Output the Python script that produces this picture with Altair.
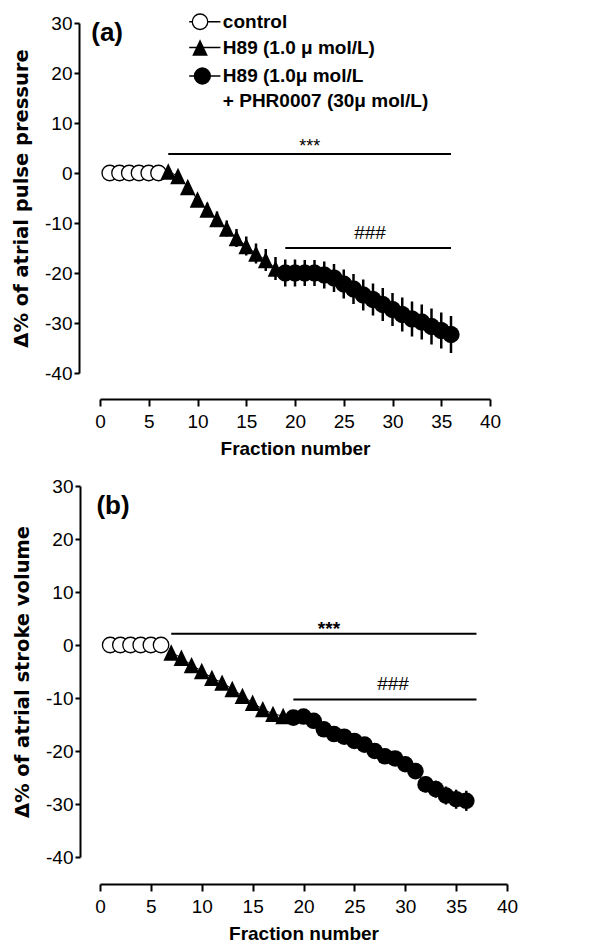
import altair as alt
import pandas as pd

# ---------------- data ----------------
X_TICKS = [0, 5, 10, 15, 20, 25, 30, 35, 40]
Y_TICKS = [-40, -30, -20, -10, 0, 10, 20, 30]

ctrl_x = [1, 2, 3, 4, 5, 6]
ctrl_y = [0, 0, 0, 0, 0, 0]
h89_x = [7, 8, 9, 10, 11, 12, 13, 14, 15, 16, 17, 18]
phr_x = [19, 20, 21, 22, 23, 24, 25, 26, 27, 28, 29, 30, 31, 32, 33, 34, 35, 36]

# panel (a): atrial pulse pressure
a_h89_y = [0.3, -0.6, -2.8, -5.3, -7.3, -9.2, -11.1, -13.0, -14.6, -16.1, -17.4, -19.1]
a_h89_err = [0.5, 0.7, 0.9, 1.1, 1.3, 1.5, 1.6, 1.8, 1.9, 2.0, 2.2, 2.3]
a_phr_y = [-20.0, -20.0, -20.0, -20.0, -20.4, -21.0, -22.2, -23.2, -24.4, -25.3,
           -26.3, -27.3, -28.3, -29.2, -29.8, -30.7, -31.5, -32.3]
a_phr_err = [2.7, 2.7, 2.6, 2.6, 2.7, 2.8, 2.9, 3.0, 3.1, 3.2, 3.3, 3.3, 3.4, 3.5,
             3.5, 3.6, 3.6, 3.7]

# panel (b): atrial stroke volume
b_h89_y = [-1.4, -2.4, -3.8, -4.9, -6.2, -7.1, -8.3, -9.6, -10.9, -12.1, -13.0, -13.4]
b_h89_err = [0.3, 0.4, 0.4, 0.5, 0.5, 0.6, 0.6, 0.7, 0.7, 0.8, 0.8, 0.9]
b_phr_y = [-13.7, -13.5, -14.3, -15.9, -16.8, -17.3, -18.1, -18.8, -20.0, -21.0,
           -21.4, -22.5, -23.8, -26.3, -27.2, -28.4, -29.1, -29.4]
b_phr_err = [0.9, 0.9, 1.0, 1.0, 1.1, 1.1, 1.2, 1.2, 1.3, 1.3, 1.4, 1.4, 1.5, 1.5,
             1.6, 1.7, 1.8, 1.9]

# significance bars: [x_start, x_end, y_line, text_x, text_y, text]
a_sig = [[7, 36, 3.8, 21.5, 4.2, "***"], [19, 36, -15.0, 27.7, -13.2, "###"]]
b_sig = [[7, 37, 2.1, 22.5, 1.8, "***"], [19, 37, -10.3, 28.8, -8.5, "###"]]

panel_labels = {"a": [-0.9, 28.0, "(a)"], "b": [-0.35, 26.2, "(b)"]}

leg_text = ["control", "H89 (1.0 \u03bc mol/L)", "H89 (1.0\u03bc mol/L",
            "+ PHR0007 (30\u03bc mol/L)"]
leg_text_y = [30.2, 25.0, 19.4, 14.4]
leg_sym_y = [30.25, 25.1, 19.4]
leg_sym_x = [10.26, 10.26, 10.5]
leg_line_x = [9.15, 12.35]
leg_text_x = 12.6

LABEL_FONT = "Liberation Sans, Arial, Helvetica, sans-serif"
BOLD_FONT = "Liberation Sans, Arial, Helvetica, sans-serif"
YTITLE_FONT = "DejaVu Sans, Verdana, sans-serif"
TRI = "M0,-1L0.95,1L-0.95,1Z"


def encs(xoff, yoff, ytitle):
    xs = alt.Scale(domain=[0, 40], nice=False, zero=False)
    ys = alt.Scale(domain=[-40, 30], nice=False, zero=False)
    xa = alt.Axis(values=X_TICKS, title="Fraction number", offset=xoff,
                  grid=False, domainColor="black", domainWidth=2,
                  tickColor="black", tickWidth=2, tickSize=7,
                  labelFont=LABEL_FONT, labelFontSize=19, labelColor="black",
                  labelPadding=6, labelFlush=False, labelOverlap=False,
                  labelExpr="'' + datum.value",
                  titleFont=BOLD_FONT, titleFontSize=19, titleFontWeight="bold",
                  titleColor="black", titlePadding=8)
    ya = alt.Axis(values=Y_TICKS, title=ytitle, offset=yoff,
                  grid=False, domainColor="black", domainWidth=2,
                  tickColor="black", tickWidth=2, tickSize=5,
                  labelFont=LABEL_FONT, labelFontSize=19, labelColor="black",
                  labelPadding=2, labelFlush=False, labelOverlap=False,
                  labelExpr="'' + datum.value",
                  titleFont=YTITLE_FONT, titleFontSize=19.5, titleFontWeight="bold",
                  titleColor="black", titlePadding=13)
    return xs, ys, xa, ya


def panel(key, h89_y, h89_err, phr_y, phr_err, sig, xoff, yoff, ytitle, w, h,
          circ_size, legend=False):
    xs, ys, xa, ya = encs(xoff, yoff, ytitle)
    X = alt.X("x:Q", scale=xs, axis=xa)
    Y = alt.Y("y:Q", scale=ys, axis=ya)
    Ylo = alt.Y("lo:Q", scale=ys, axis=ya)

    ctrl = pd.DataFrame({"x": ctrl_x, "y": ctrl_y})
    h89 = pd.DataFrame({"x": h89_x, "y": h89_y, "e": h89_err})
    phr = pd.DataFrame({"x": phr_x, "y": phr_y, "e": phr_err})
    for d in (h89, phr):
        d["lo"] = d["y"] - d["e"]
        d["hi"] = d["y"] + d["e"]
    err = pd.concat([h89, phr])

    layers = []
    layers.append(alt.Chart(err).mark_rule(color="black", strokeWidth=2.5).encode(
        x=X, y=Ylo, y2="hi:Q"))
    for d in (ctrl, h89, phr):
        layers.append(alt.Chart(d).mark_line(color="black", strokeWidth=1).encode(x=X, y=Y))
    layers.append(alt.Chart(ctrl).mark_point(shape="circle", filled=True, fill="white",
                                             stroke="black", strokeWidth=1.3, opacity=1,
                                             size=240).encode(x=X, y=Y))
    layers.append(alt.Chart(h89).mark_point(shape=TRI, filled=True, color="black",
                                            opacity=1, size=270).encode(x=X, y=Y))
    layers.append(alt.Chart(phr).mark_point(shape="circle", filled=True, color="black",
                                            opacity=1, size=circ_size).encode(x=X, y=Y))

    sig_lines = pd.DataFrame({"x": [s[0] for s in sig], "x2": [s[1] for s in sig],
                              "y": [s[2] for s in sig]})
    layers.append(alt.Chart(sig_lines).mark_rule(color="black", strokeWidth=2).encode(
        x=X, x2="x2:Q", y=Y))
    star = pd.DataFrame({"x": [sig[0][3]], "y": [sig[0][4]], "t": [sig[0][5]]})
    hashes = pd.DataFrame({"x": [sig[1][3]], "y": [sig[1][4]], "t": [sig[1][5]]})
    if key == "a":
        layers.append(alt.Chart(star).mark_text(font=BOLD_FONT, fontSize=18, color="black",
                                                align="center", baseline="alphabetic").encode(
            x=X, y=Y, text="t:N"))
    else:
        layers.append(alt.Chart(star).mark_text(font=BOLD_FONT, fontSize=19, fontWeight="bold",
                                                color="black", align="center",
                                                baseline="alphabetic").encode(
            x=X, y=Y, text="t:N"))
    layers.append(alt.Chart(hashes).mark_text(font=LABEL_FONT, fontSize=19, color="black",
                                              align="center", baseline="alphabetic").encode(
        x=X, y=Y, text="t:N"))

    pl = panel_labels[key]
    lab = pd.DataFrame({"x": [pl[0]], "y": [pl[1]], "t": [pl[2]]})
    layers.append(alt.Chart(lab).mark_text(font=BOLD_FONT, fontSize=26, fontWeight="bold",
                                           color="black", align="left",
                                           baseline="middle").encode(x=X, y=Y, text="t:N"))

    if legend:
        lines = pd.DataFrame({"x": [leg_line_x[0]] * 3, "x2": [leg_line_x[1]] * 3,
                              "y": leg_sym_y})
        layers.append(alt.Chart(lines).mark_rule(color="black", strokeWidth=1.5).encode(
            x=X, x2="x2:Q", y=Y))
        s1 = pd.DataFrame({"x": [leg_sym_x[0]], "y": [leg_sym_y[0]]})
        s2 = pd.DataFrame({"x": [leg_sym_x[1]], "y": [leg_sym_y[1]]})
        s3 = pd.DataFrame({"x": [leg_sym_x[2]], "y": [leg_sym_y[2]]})
        layers.append(alt.Chart(s1).mark_point(shape="circle", filled=True, fill="white",
                                               stroke="black", strokeWidth=1.3, opacity=1,
                                               size=240).encode(x=X, y=Y))
        layers.append(alt.Chart(s2).mark_point(shape=TRI, filled=True,
                                               color="black", opacity=1,
                                               size=270).encode(x=X, y=Y))
        layers.append(alt.Chart(s3).mark_point(shape="circle", filled=True, color="black",
                                               opacity=1, size=300).encode(x=X, y=Y))
        lt = pd.DataFrame({"x": [leg_text_x] * 4, "y": leg_text_y, "t": leg_text})
        layers.append(alt.Chart(lt).mark_text(font=BOLD_FONT, fontSize=19, fontWeight="bold",
                                              color="black", align="left",
                                              baseline="middle").encode(
            x=X, y=Y, text="t:N"))

    return alt.layer(*layers).properties(width=w, height=h)


pa = panel("a", a_h89_y, a_h89_err, a_phr_y, a_phr_err, a_sig, 26, 21,
           "\u0394% of atrial pulse pressure", 390, 350, 300, legend=True)
pb = panel("b", b_h89_y, b_h89_err, b_phr_y, b_phr_err, b_sig, 27, 20,
           "\u0394% of atrial stroke volume", 407, 371, 275)

chart = alt.vconcat(pa, pb, spacing=113, bounds="flush").configure_view(
    stroke=None).properties(padding={"left": 11, "top": 11, "right": 5, "bottom": 2},
                            background="white")

chart.save("out.html", embed_options={"renderer": "svg", "actions": False})
